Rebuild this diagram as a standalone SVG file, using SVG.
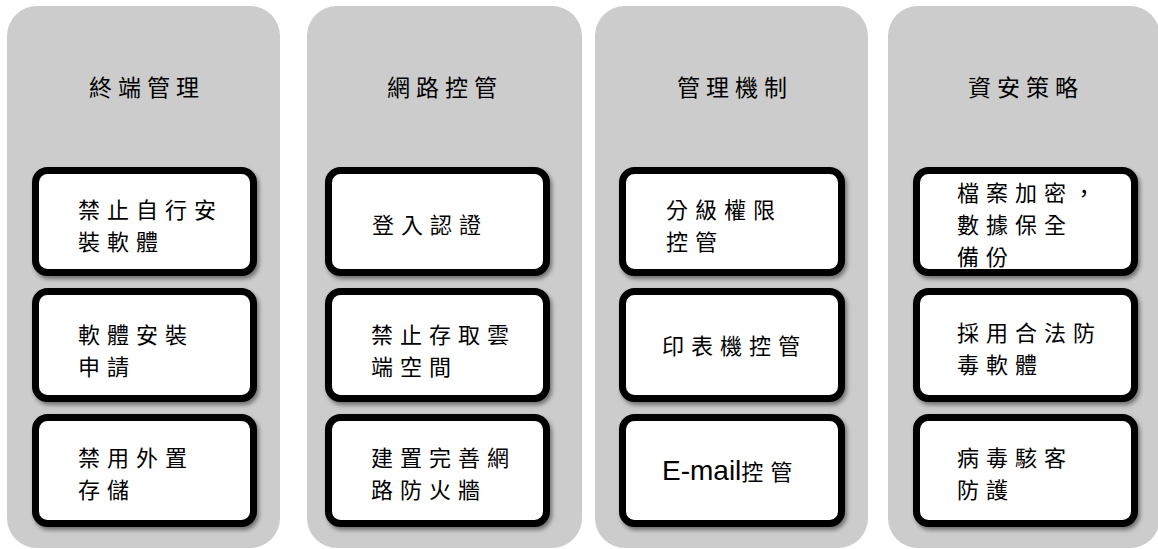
<svg xmlns="http://www.w3.org/2000/svg" width="1158" height="549" viewBox="0 0 1158 549">
<defs>
<filter id="sh" x="-10%" y="-10%" width="125%" height="130%">
<feDropShadow dx="2" dy="3" stdDeviation="2" flood-color="#000" flood-opacity="0.45"/>
</filter>
<style>
.col{fill:#cccccc;}
.box{fill:#ffffff;stroke:#000000;stroke-width:7;filter:url(#sh);}
.hd{font-family:"Noto Sans CJK TC","Noto Sans CJK SC",sans-serif;font-size:23px;letter-spacing:6px;fill:#000;text-anchor:middle;}
.tx{font-family:"Noto Sans CJK TC","Noto Sans CJK SC",sans-serif;font-size:22px;letter-spacing:7px;fill:#000;}
.lat{font-family:"Liberation Sans",Arial,sans-serif;font-size:28px;letter-spacing:0px;}
</style>
</defs>
<g id="connectors"></g>
<g id="col1">
<rect class="col" x="7" y="6" width="273" height="542" rx="30"/>
<text class="hd" x="147" y="96">終端管理</text>
</g>
<g id="col2">
<rect class="col" x="307" y="6" width="275" height="542" rx="30"/>
<text class="hd" x="445" y="96">網路控管</text>
</g>
<g id="col3">
<rect class="col" x="595" y="6" width="273" height="542" rx="30"/>
<text class="hd" x="735" y="96">管理機制</text>
</g>
<g id="col4">
<rect class="col" x="888" y="6" width="272" height="542" rx="30"/>
<text class="hd" x="1026" y="96">資安策略</text>
</g>
<g id="n1a"><rect class="box" x="35.5" y="170.5" width="218" height="102" rx="12"/><text class="tx" x="78" y="218">禁止自行安</text><text class="tx" x="78" y="250">裝軟體</text></g>
<g id="n1b"><rect class="box" x="35.5" y="291.5" width="218" height="107" rx="12"/><text class="tx" x="78" y="343">軟體安裝</text><text class="tx" x="78" y="375">申請</text></g>
<g id="n1c"><rect class="box" x="35.5" y="417.5" width="218" height="106" rx="12"/><text class="tx" x="78" y="466">禁用外置</text><text class="tx" x="78" y="498">存儲</text></g>
<g id="n2a"><rect class="box" x="328.5" y="170.5" width="218" height="102" rx="12"/><text class="tx" x="372" y="233">登入認證</text></g>
<g id="n2b"><rect class="box" x="328.5" y="291.5" width="218" height="107" rx="12"/><text class="tx" x="371" y="343">禁止存取雲</text><text class="tx" x="371" y="375">端空間</text></g>
<g id="n2c"><rect class="box" x="328.5" y="417.5" width="218" height="106" rx="12"/><text class="tx" x="371" y="466">建置完善網</text><text class="tx" x="371" y="498">路防火牆</text></g>
<g id="n3a"><rect class="box" x="622.5" y="170.5" width="219" height="102" rx="12"/><text class="tx" x="666" y="218">分級權限</text><text class="tx" x="666" y="250">控管</text></g>
<g id="n3b"><rect class="box" x="622.5" y="291.5" width="219" height="107" rx="12"/><text class="tx" x="662" y="354">印表機控管</text></g>
<g id="n3c"><rect class="box" x="622.5" y="417.5" width="219" height="106" rx="12"/><text class="tx" x="662" y="480"><tspan class="lat">E-mail</tspan>控管</text></g>
<g id="n4a"><rect class="box" x="916.5" y="170.5" width="218" height="102" rx="12"/><text class="tx" x="957" y="201">檔案加密，</text><text class="tx" x="957" y="233">數據保全</text><text class="tx" x="957" y="265">備份</text></g>
<g id="n4b"><rect class="box" x="916.5" y="291.5" width="218" height="107" rx="12"/><text class="tx" x="957" y="341">採用合法防</text><text class="tx" x="957" y="373">毒軟體</text></g>
<g id="n4c"><rect class="box" x="916.5" y="417.5" width="218" height="106" rx="12"/><text class="tx" x="957" y="466">病毒駭客</text><text class="tx" x="957" y="498">防護</text></g>
</svg>
